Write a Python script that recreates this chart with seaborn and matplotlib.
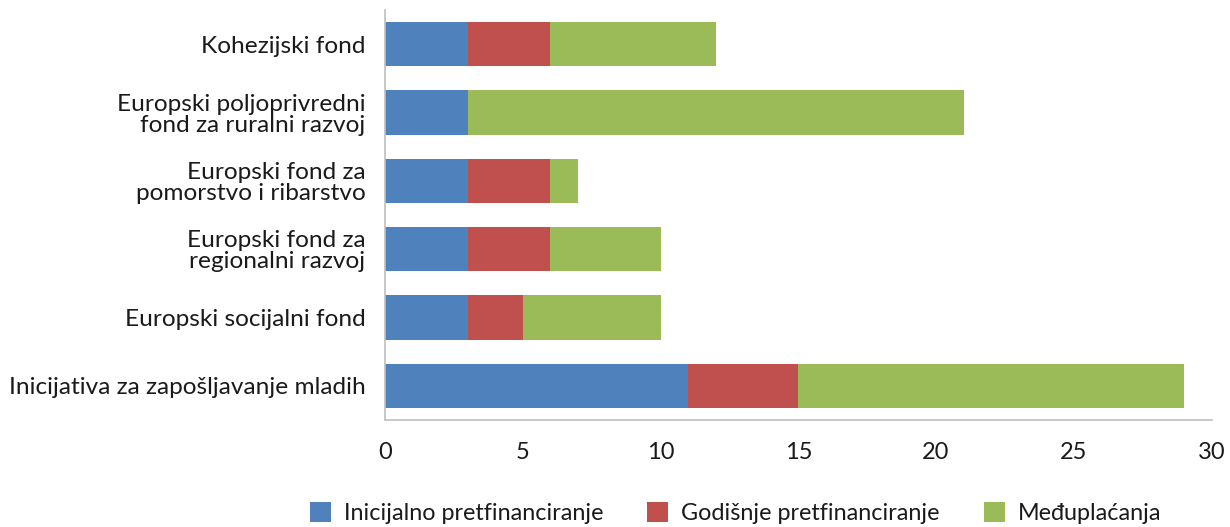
import matplotlib
matplotlib.use("Agg")
import matplotlib.pyplot as plt
from matplotlib.patches import Patch
import seaborn as sns
import pandas as pd
import numpy as np

categories = [
    "Kohezijski fond",
    "Europski poljoprivredni\nfond za ruralni razvoj",
    "Europski fond za\npomorstvo i ribarstvo",
    "Europski fond za\nregionalni razvoj",
    "Europski socijalni fond",
    "Inicijativa za zapošljavanje mladih",
]
inicijalno = [3, 3, 3, 3, 3, 11]
godisnje = [3, 0, 3, 3, 2, 4]
meduplacanja = [6, 18, 1, 4, 5, 14]
series_names = ["Inicijalno pretfinanciranje", "Godišnje pretfinanciranje", "Međuplaćanja"]
colors = ["#4F81BD", "#C0504D", "#9BBB59"]
xticks = [0, 5, 10, 15, 20, 25, 30]

sns.set_theme(style="white")
plt.rcParams["font.family"] = ["Lato", "DejaVu Sans"]
FS_Y = 17.6
FS_X = 17
FS_L = 16.8

df = pd.DataFrame({
    "cat": categories,
    "s1": inicijalno,
    "s2": godisnje,
    "s3": meduplacanja,
})
df["c1"] = df["s1"]
df["c2"] = df["s1"] + df["s2"]
df["c3"] = df["s1"] + df["s2"] + df["s3"]

fig = plt.figure(figsize=(12.3, 5.27), dpi=100)
ax = fig.add_axes([0.313, 0.203, 0.672, 0.778])

for col, colr in zip(["c3", "c2", "c1"], colors[::-1]):
    sns.barplot(data=df, y="cat", x=col, color=colr, orient="h",
                width=0.65, ax=ax, saturation=1, linewidth=0)

ax.set_xlim(0, 30)
ax.set_ylim(5.5, -0.5)
ax.set_xticks(xticks)
ax.set_xticklabels([str(t) for t in xticks], fontsize=FS_X, color="#1a1a1a")
ax.set_xlabel("")
ax.set_ylabel("")
ax.tick_params(axis="y", length=0, labelsize=FS_Y, labelcolor="#1a1a1a", pad=14)
ax.tick_params(axis="x", direction="in", length=10, width=1, color="#BFBFBF", pad=16)
for lab in ax.get_yticklabels():
    lab.set_horizontalalignment("right")
    lab.set_multialignment("right")
    lab.set_linespacing(1.0)

for s in ["top", "right"]:
    ax.spines[s].set_visible(False)
for s in ["left", "bottom"]:
    ax.spines[s].set_color("#BFBFBF")
    ax.spines[s].set_linewidth(1.2)

handles = [Patch(facecolor=c, edgecolor="none") for c in colors]
fig.legend(handles, series_names, loc="center", bbox_to_anchor=(0.598, 0.026),
           ncol=3, frameon=False, fontsize=FS_L, handlelength=0.9, handleheight=0.9,
           handletextpad=0.55, columnspacing=1.9, labelcolor="#1a1a1a")

fig.savefig("out.png", dpi=100)
